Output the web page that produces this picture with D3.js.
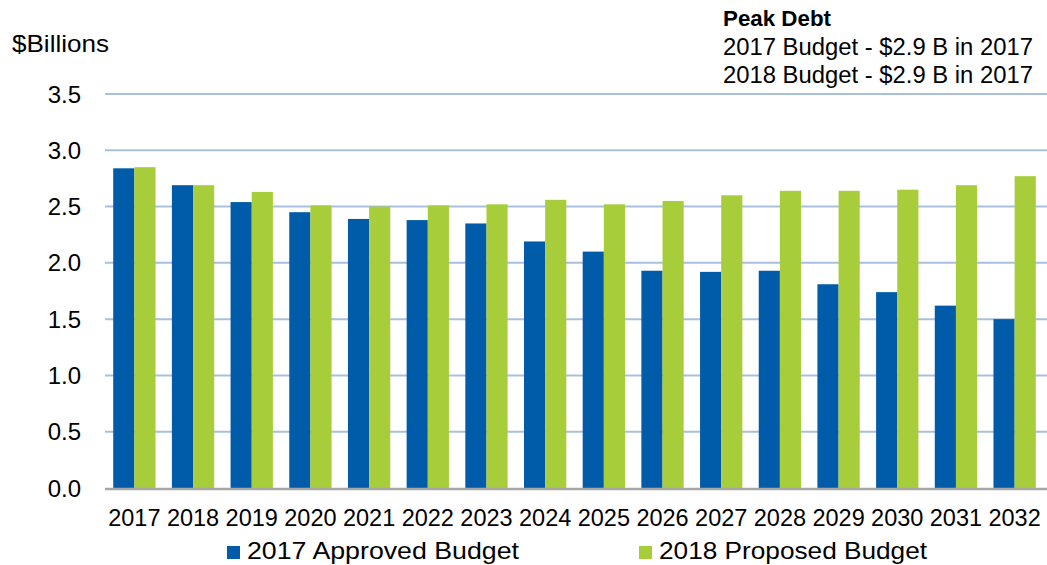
<!DOCTYPE html>
<html><head><meta charset="utf-8">
<script src="https://cdn.jsdelivr.net/npm/d3@7/dist/d3.min.js"></script>
<style>body{margin:0;background:#fff}svg{display:block;font-family:"Liberation Sans",Arial,sans-serif}</style>
</head><body>
<svg id="c" width="1047" height="565"></svg>
<script>
const years = ["2017","2018","2019","2020","2021","2022","2023","2024","2025","2026","2027","2028","2029","2030","2031","2032"];
const approved2017 = [2.84,2.69,2.54,2.45,2.39,2.38,2.35,2.19,2.10,1.93,1.92,1.93,1.81,1.74,1.62,1.50];
const proposed2018 = [2.85,2.69,2.63,2.51,2.50,2.51,2.52,2.56,2.52,2.55,2.60,2.64,2.64,2.65,2.69,2.77];
const yTicks = [0,0.5,1.0,1.5,2.0,2.5,3.0,3.5];
const seriesNames = ["2017 Approved Budget","2018 Proposed Budget"];
const colors = ["#005CA9","#A7CE3A"];
const noteLines = ["Peak Debt","2017 Budget - $2.9 B in 2017","2018 Budget - $2.9 B in 2017"];

const svg = d3.select("#c");
const x = d3.scaleBand().domain(years).range([105,1044]).paddingInner(0.279).paddingOuter(0.14);
const xs = d3.scaleBand().domain([0,1]).range([0,x.bandwidth()]);
const y = d3.scaleLinear().domain([0,3.5]).range([488,94]);

// gridlines
svg.append("g").selectAll("line").data(yTicks.filter(d=>d>0)).join("line")
  .attr("x1",105).attr("x2",1047).attr("y1",d=>y(d)).attr("y2",d=>y(d))
  .attr("stroke","#A9BFDF").attr("stroke-width",2);

// bars
const series = [approved2017, proposed2018];
series.forEach((vals,si)=>{
  svg.append("g").selectAll("rect").data(vals).join("rect")
    .attr("x",(d,i)=>x(years[i])+xs(si)).attr("width",xs.bandwidth())
    .attr("y",d=>y(d)).attr("height",d=>y(0)-y(d))
    .attr("fill",colors[si]);
});

// bottom axis line
svg.append("line").attr("x1",105).attr("x2",1047).attr("y1",y(0)+1).attr("y2",y(0)+1)
  .attr("stroke","#A6A6A6").attr("stroke-width",2.5);

// y tick labels
svg.append("g").selectAll("text").data(yTicks).join("text")
  .attr("x",81).attr("y",d=>y(d)+8.5).attr("text-anchor","end")
  .attr("font-size",24).attr("fill","#000").text(d=>d.toFixed(1));

// x labels
svg.append("g").selectAll("text").data(years).join("text")
  .attr("x",d=>x(d)+x.bandwidth()/2).attr("y",526).attr("text-anchor","middle")
  .attr("font-size",23.5).attr("fill","#000").text(d=>d);

// y title
svg.append("text").attr("x",12).attr("y",52).attr("font-size",24)
  .attr("textLength",97).attr("lengthAdjust","spacingAndGlyphs").text("$Billions");

// note
svg.append("text").attr("x",723).attr("y",26).attr("font-size",22).attr("font-weight","bold")
  .attr("textLength",108).attr("lengthAdjust","spacingAndGlyphs").text(noteLines[0]);
svg.append("text").attr("x",723).attr("y",55).attr("font-size",23.5)
  .attr("textLength",310).attr("lengthAdjust","spacingAndGlyphs").text(noteLines[1]);
svg.append("text").attr("x",723).attr("y",83).attr("font-size",23.5)
  .attr("textLength",310).attr("lengthAdjust","spacingAndGlyphs").text(noteLines[2]);

// legend
const leg = [{sx:227,tx:247,w:272},{sx:639,tx:659,w:268}];
leg.forEach((l,i)=>{
  svg.append("rect").attr("x",l.sx).attr("y",546).attr("width",13).attr("height",13).attr("fill",colors[i]);
  svg.append("text").attr("x",l.tx).attr("y",559).attr("font-size",24)
    .attr("textLength",l.w).attr("lengthAdjust","spacingAndGlyphs").text(seriesNames[i]);
});
</script>
</body></html>
